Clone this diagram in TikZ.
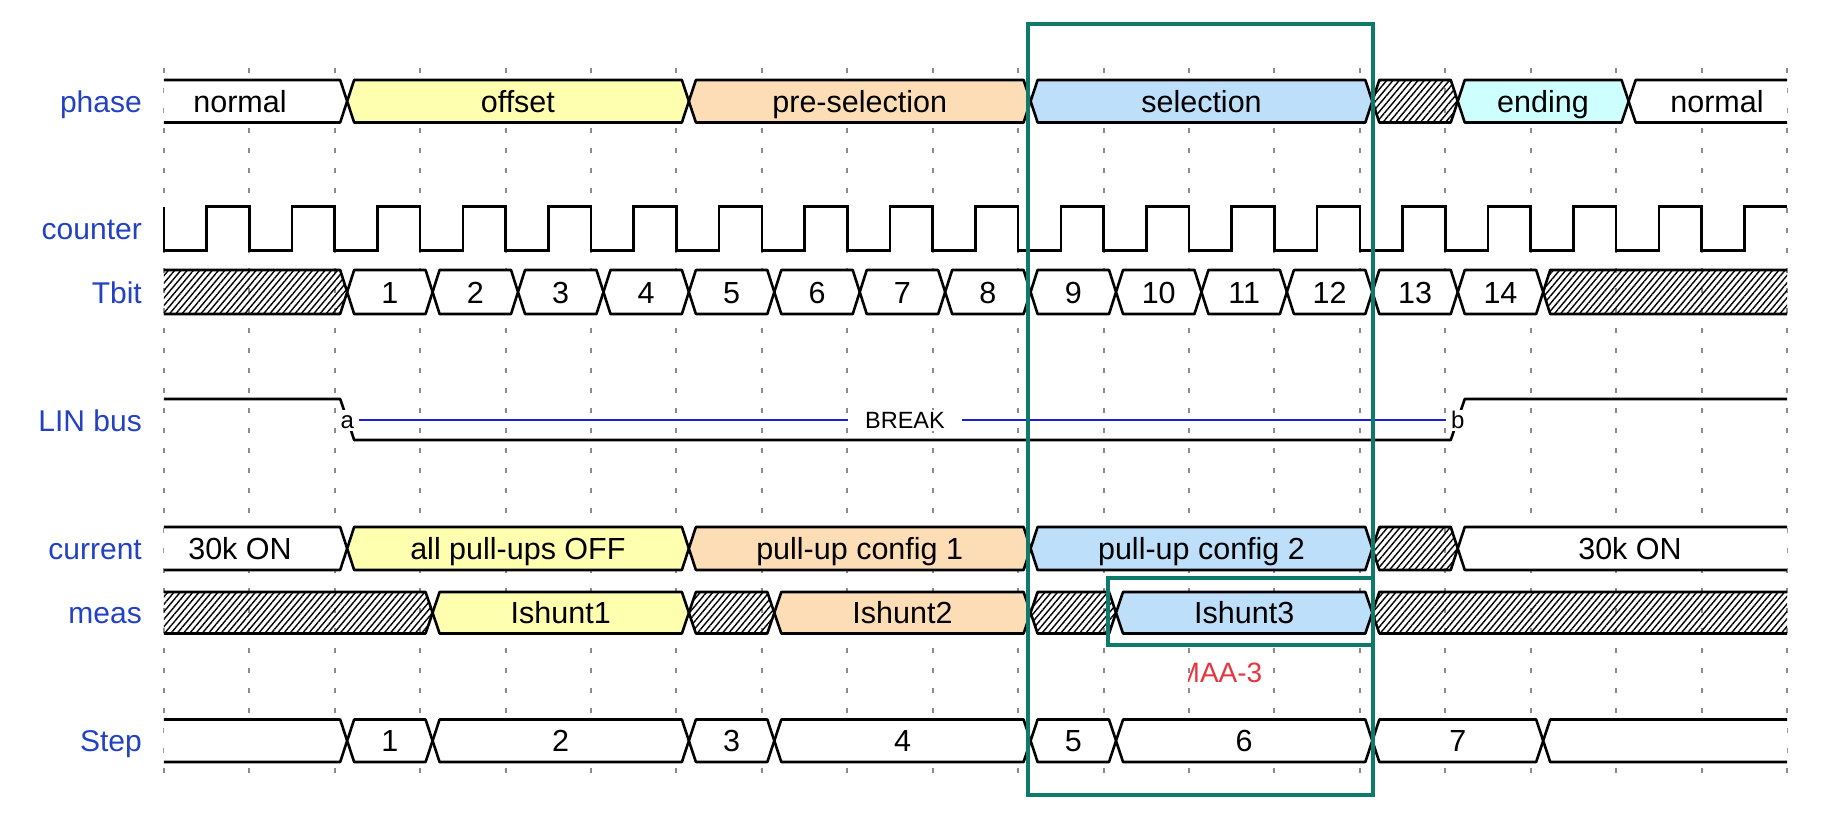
\documentclass[tikz,border=0pt]{standalone}
\usepackage{fontspec}
\setmainfont{Liberation Sans}
\usetikzlibrary{patterns.meta}
\definecolor{cYel}{RGB}{255,255,176}
\definecolor{cOra}{RGB}{253,221,182}
\definecolor{cBlu}{RGB}{189,223,250}
\definecolor{cCya}{RGB}{206,255,255}
\definecolor{cLab}{RGB}{35,65,195}
\definecolor{cTeal}{RGB}{14,122,106}
\definecolor{cRed}{RGB}{232,52,62}
\definecolor{cBreak}{RGB}{30,30,215}
\definecolor{cGrid}{RGB}{140,140,140}
% bus segment between two transitions
\newcommand\busmid[5]{\path[busline,#5] ({#1},{(#3+#4)/2}) -- ({#1+7},{#3}) -- ({#2-7},{#3}) -- ({#2},{(#3+#4)/2}) -- ({#2-7},{#4}) -- ({#1+7},{#4}) -- cycle;}
% segment open on the left
\newcommand\busleft[4]{\path[#4] (163.8,{#2}) -- ({#1-7},{#2}) -- ({#1},{(#2+#3)/2}) -- ({#1-7},{#3}) -- (163.8,{#3}) -- cycle;
 \draw[busline] (163.8,{#2}) -- ({#1-7},{#2}) -- ({#1},{(#2+#3)/2}) -- ({#1-7},{#3}) -- (163.8,{#3});}
% segment open on the right
\newcommand\busright[4]{\path[#4] (1787,{#2}) -- ({#1+7},{#2}) -- ({#1},{(#2+#3)/2}) -- ({#1+7},{#3}) -- (1787,{#3}) -- cycle;
 \draw[busline] (1787,{#2}) -- ({#1+7},{#2}) -- ({#1},{(#2+#3)/2}) -- ({#1+7},{#3}) -- (1787,{#3});}
\begin{document}
\begin{tikzpicture}[x=1pt,y=-1pt,
  busline/.style={draw=black,line width=2.6pt,line join=round},
  hatch/.style={pattern={Lines[angle=50,distance=4.8pt,line width=1.4pt]}},
  lab/.style={text=cLab,anchor=base east,font=\fontsize{30}{36}\selectfont,inner sep=0pt},
  sig/.style={anchor=base,font=\fontsize{30.5}{36}\selectfont,inner sep=0pt},
  gridline/.style={draw=cGrid,line width=2pt,dash pattern=on 5pt off 15pt},
  wave/.style={draw=black,line width=2.6pt,line join=miter},
  tealbox/.style={draw=cTeal,line width=4pt},
  linlab/.style={font=\fontsize{24}{28}\selectfont,fill=white,inner xsep=5pt,inner ysep=2pt,text height=17pt,text depth=0pt},
  breakline/.style={draw=cBreak,line width=2pt}]
\useasboundingbox (0,0) rectangle (1837,822);
\fill[white] (0,0) rectangle (1837,822);

% grid
\foreach \k in {0,...,19} \draw[gridline] ({163.8+85.43*\k},68) -- ({163.8+85.43*\k},773);

% labels
\node[lab] (Lphase) at (142,112.25) {phase};
\node[lab] (Lcounter) at (142,239.7) {counter};
\node[lab] (Ltbit) at (142,303) {Tbit};
\node[lab] (Llin) at (142,431.7) {LIN bus};
\node[lab] (Lcurrent) at (142,559.5) {current};
\node[lab] (Lmeas) at (142,623.75) {meas};
\node[lab] (Lstep) at (142,751.75) {Step};

% phase
\busleft{347.16}{80}{122.5}{fill=white}
\busmid{347.16}{688.88}{80}{122.5}{fill=cYel}
\busmid{688.88}{1030.6}{80}{122.5}{fill=cOra}
\busmid{1030.6}{1372.32}{80}{122.5}{fill=cBlu}
\busmid{1372.32}{1457.75}{80}{122.5}{hatch}
\busmid{1457.75}{1628.61}{80}{122.5}{fill=cCya}
\busright{1628.61}{80}{122.5}{fill=white}
\node[sig] (p1) at (240,112.25) {normal};
\node[sig] (p2) at (517.9,112.25) {offset};
\node[sig] (p3) at (859.7,112.25) {pre-selection};
\node[sig] (p4) at (1201.5,112.25) {selection};
\node[sig] (p5) at (1543,112.25) {ending};
\node[sig] (p6) at (1717,112.25) {normal};

% counter
\draw[wave] (163.8,206.7) foreach \k in {0,...,18} { -- ({163.8+85.43*\k},250.7) -- ({163.8+85.43*\k+42.715},250.7) -- ({163.8+85.43*\k+42.715},206.7) -- ({163.8+85.43*(\k+1)},206.7) };

% Tbit
\busleft{347.16}{270}{314}{hatch}
\foreach \k in {2,...,15} {
  \busmid{176.3+85.43*\k}{176.3+85.43*(\k+1)}{270}{314}{fill=white}
  \pgfmathtruncatemacro\n{\k-1}
  \node[sig] (tb\n) at ({219+85.43*\k},303) {\n};
}
\busright{1543.18}{270}{314}{hatch}

% LIN bus
\draw[busline] (163.8,399) -- (340.2,399) -- (354.2,440) -- (1450.75,440) -- (1464.75,399) -- (1787,399);
\node[linlab] (la) at (347.2,420) {a};
\node[linlab] (lb) at (1457.75,420) {b};
\node[linlab,font=\fontsize{23.5}{28}\selectfont,inner xsep=17pt] (brk) at (905,420) {BREAK};
\draw[breakline] (la) -- (brk);
\draw[breakline] (brk) -- (lb);

% current
\busleft{347.16}{527}{570}{fill=white}
\busmid{347.16}{688.88}{527}{570}{fill=cYel}
\busmid{688.88}{1030.6}{527}{570}{fill=cOra}
\busmid{1030.6}{1372.32}{527}{570}{fill=cBlu}
\busmid{1372.32}{1457.75}{527}{570}{hatch}
\busright{1457.75}{527}{570}{fill=white}
\node[sig] (c1) at (240,559.5) {30k ON};
\node[sig] (c2) at (517.9,559.5) {all pull-ups OFF};
\node[sig] (c3) at (859.7,559.5) {pull-up config 1};
\node[sig] (c4) at (1201.5,559.5) {pull-up config 2};
\node[sig] (c5) at (1630,559.5) {30k ON};

% meas
\busleft{432.59}{592}{633.5}{hatch}
\busmid{432.59}{688.88}{592}{633.5}{fill=cYel}
\busmid{688.88}{774.31}{592}{633.5}{hatch}
\busmid{774.31}{1030.6}{592}{633.5}{fill=cOra}
\busmid{1030.6}{1116.03}{592}{633.5}{hatch}
\busmid{1116.03}{1372.32}{592}{633.5}{fill=cBlu}
\busright{1372.32}{592}{633.5}{hatch}
\node[sig] (m1) at (560.7,623.75) {Ishunt1};
\node[sig] (m2) at (902.5,623.75) {Ishunt2};
\node[sig] (m3) at (1244.2,623.75) {Ishunt3};

% Step
\busleft{347.16}{719.5}{762}{fill=white}
\busmid{347.16}{432.59}{719.5}{762}{fill=white}
\busmid{432.59}{688.88}{719.5}{762}{fill=white}
\busmid{688.88}{774.31}{719.5}{762}{fill=white}
\busmid{774.31}{1030.6}{719.5}{762}{fill=white}
\busmid{1030.6}{1116.03}{719.5}{762}{fill=white}
\busmid{1116.03}{1372.32}{719.5}{762}{fill=white}
\busmid{1372.32}{1543.18}{719.5}{762}{fill=white}
\busright{1543.18}{719.5}{762}{fill=white}
\node[sig] (s1) at (389.9,751.75) {1};
\node[sig] (s2) at (560.7,751.75) {2};
\node[sig] (s3) at (731.6,751.75) {3};
\node[sig] (s4) at (902.5,751.75) {4};
\node[sig] (s5) at (1073.3,751.75) {5};
\node[sig] (s6) at (1244.2,751.75) {6};
\node[sig] (s7) at (1457.75,751.75) {7};

% red label (left part hidden)
\begin{scope}
\clip (1188,640) rectangle (1300,700);
\node[anchor=base east,text=cRed,font=\fontsize{28}{32}\selectfont,inner sep=0pt] (maa) at (1262.5,682.7) {MAA-3};
\end{scope}

% teal highlight boxes
\draw[tealbox] (1028,23.5) rectangle (1372.6,795);
\draw[tealbox] (1107.6,578.3) rectangle (1372.6,645);
\end{tikzpicture}
\end{document}
